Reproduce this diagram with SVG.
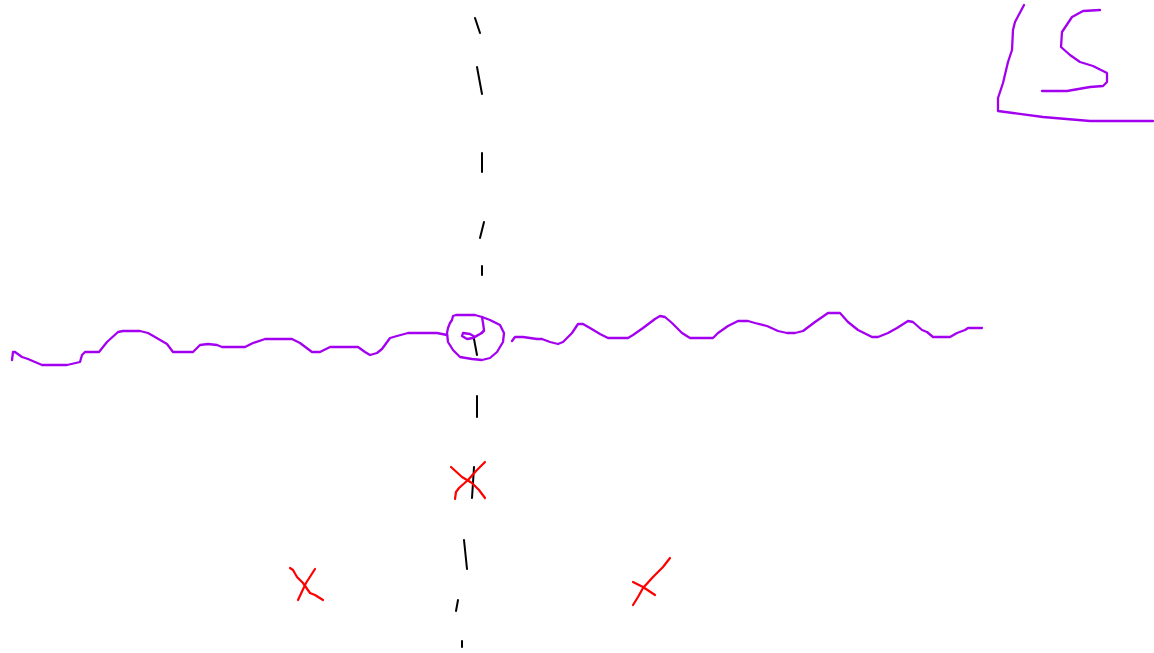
<svg xmlns="http://www.w3.org/2000/svg" width="1154" height="653" viewBox="0 0 1154 653">
<style>
.p{fill:none;stroke:#a400f0;stroke-width:2.3;stroke-linecap:round;stroke-linejoin:round}
.r{fill:none;stroke:#ff0000;stroke-width:2.2;stroke-linecap:round;stroke-linejoin:round}
.k{fill:none;stroke:#000;stroke-width:2;stroke-linecap:round}
</style>
<rect width="1154" height="653" fill="#fff"/>
<g id="axis-dashes">
<line class="k" x1="475" y1="18" x2="480" y2="33"/>
<line class="k" x1="477" y1="67" x2="482" y2="94"/>
<line class="k" x1="482" y1="153" x2="482" y2="172"/>
<line class="k" x1="484" y1="222" x2="480" y2="238"/>
<line class="k" x1="482" y1="266" x2="482" y2="275"/>
<line class="k" x1="474" y1="339" x2="477" y2="355"/>
<line class="k" x1="477" y1="396" x2="477" y2="417"/>
<line class="k" x1="474" y1="467" x2="472" y2="498"/>
<line class="k" x1="464" y1="540" x2="467" y2="569"/>
<line class="k" x1="458" y1="600" x2="456" y2="611"/>
<line class="k" x1="462" y1="641" x2="462" y2="647"/>
</g>
<g id="left-wave">
<polyline class="p" points="12,360 13,352 15,352 22,357 28,359 42,365 67,365 80,362 82,355 85,352 99,352 107,342 118,332 123,331 140,331 148,333 155,337 167,344 173,352 193,352 200,345 208,344 217,345 222,347 245,347 253,343 265,339 292,339 300,343 312,352 320,352 330,347 358,347 365,352 370,355 377,353 382,349 390,338 397,336 408,333 437,333 447,335"/>
</g>
<g id="center-loop">
<path class="p" d="M452,320 L453,316 L456,315 L475,315 L482,317 L490,320 L500,325 L504,333 L503,342 L500,347 L497,352 L490,358 L482,360 L472,359 L460,357 L453,350 L448,342 L447,333 L448,328 L450,323 L452,320"/>
<path class="p" d="M482,317 L483,323 L484,330 L482,333 L478,335 L473,338 L467,339 L462,336 L463,333 L470,334 L475,337 L480,334 L484,331"/>
</g>
<g id="right-wave">
<polyline class="p" points="512,341 515,337 523,337 537,339 542,339 550,342 558,344 563,342 572,333 578,324 583,324 590,328 600,334 608,338 628,338 633,335 643,328 655,319 660,316 665,317 672,323 682,333 690,338 713,338 718,333 728,326 738,321 748,321 755,323 767,326 778,331 787,333 795,333 803,331 815,322 828,313 840,313 848,322 858,330 872,337 878,337 888,333 897,328 908,321 913,322 922,330 927,332 933,337 950,337 957,333 965,330 968,328 982,328"/>
</g>
<g id="ls-mark">
<polyline class="p" points="1024,5 1015,22 1013,30 1012,50 1008,62 1003,83 998,98 998,111 1013,113 1043,117 1090,121 1153,121"/>
<polyline class="p" points="1100,10 1083,11 1072,17 1062,32 1061,47 1070,55 1080,62 1093,66 1107,73 1107,82 1103,86 1090,87 1067,91 1042,91"/>
</g>
<g id="x-center">
<polyline class="r" points="451,467 462,477 472,483 479,490 485,498"/>
<polyline class="r" points="485,462 476,471 468,480 459,488 456,492 455,499"/>
</g>
<g id="x-left">
<polyline class="r" points="290,568 293,570 297,577 303,583 310,593 315,595 323,600"/>
<polyline class="r" points="315,569 306,583 298,600"/>
</g>
<g id="x-right">
<polyline class="r" points="670,558 663,567 653,577 643,588 638,597 633,605"/>
<polyline class="r" points="633,582 643,587 655,595"/>
</g>
</svg>
